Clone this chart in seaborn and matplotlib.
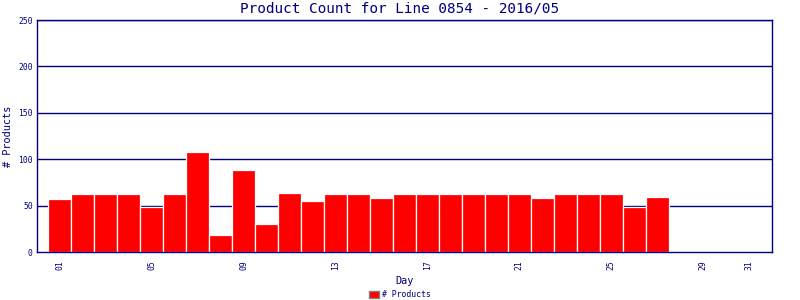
import matplotlib
matplotlib.use("Agg")
import matplotlib.pyplot as plt
import seaborn as sns
import pandas as pd
from matplotlib.patches import Patch

days = list(range(1, 28))
products = [57, 63, 63, 63, 49, 63, 108, 18, 88, 30, 64, 55, 63, 63, 58,
            63, 63, 63, 63, 63, 63, 58, 63, 63, 63, 49, 59]
tick_days = [1, 5, 9, 13, 17, 21, 25, 29, 31]
tick_labels = ["01", "05", "09", "13", "17", "21", "25", "29", "31"]
title = "Product Count for Line 0854 - 2016/05"

sns.set_theme(style="white")
plt.rcParams['font.family'] = ['DejaVu Sans Mono', 'DejaVu Sans']

navy = "#000080"
df = pd.DataFrame({"Day": days, "Products": products})

fig = plt.figure(figsize=(8, 3), dpi=100)
ax = fig.add_axes([37/800, 48/300, 735/800, 232/300])
ax.set_axisbelow(True)
for v in [50, 100, 150, 200, 250]:
    ax.axhline(v, color=navy, lw=1.0, zorder=0)
sns.barplot(data=df, x="Day", y="Products", native_scale=True, width=1.0,
            color="#ff0000", saturation=1, edgecolor="white", linewidth=0.9,
            ax=ax, zorder=2)
ax.set_xlim(0, 32)
ax.set_ylim(0, 250)
ax.set_yticks([0, 50, 100, 150, 200, 250])
ax.set_yticklabels(["0", "50", "100", "150", "200", "250"], fontsize=5.8, color=navy)
ax.set_xticks(tick_days)
ax.set_xticklabels(tick_labels, rotation=90, fontsize=5.8, color=navy)
ax.tick_params(axis="both", length=0, pad=3)
ax.tick_params(axis="x", pad=6)
for s in ax.spines.values():
    s.set_color(navy)
    s.set_linewidth(1.0)
ax.set_xlabel("Day", fontsize=7.4, color=navy, labelpad=4)
ax.set_ylabel("# Products", fontsize=7.4, color=navy, labelpad=4)
ax.grid(False)
fig.suptitle(title, fontsize=10.4, color=navy, y=0.995, fontweight="light")
fig.legend(handles=[Patch(facecolor="#ff0000", edgecolor="#808080", label="# Products")],
           loc="center", bbox_to_anchor=(0.5, 0.017), frameon=False, fontsize=5.9,
           labelcolor=navy, handlelength=1.2, handleheight=0.8, handletextpad=0.4)
fig.savefig("out.png", dpi=100)
